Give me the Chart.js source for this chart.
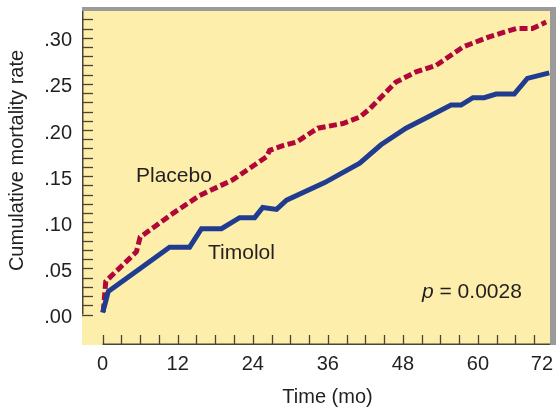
<!DOCTYPE html>
<html>
<head>
<meta charset="utf-8">
<script src="https://cdn.jsdelivr.net/npm/chart.js@4"></script>
<style>
  html, body { margin: 0; padding: 0; background: #fff; }
  #wrap { width: 556px; height: 411px; }
</style>
</head>
<body>
<div id="wrap"><canvas id="km-chart"></canvas></div>
<script>
// months and cumulative mortality
const timololTime = [0, 0.4, 0.9, 6.0, 10.7, 13.9, 15.8, 19.0, 21.9, 24.3, 25.6, 27.8, 29.4, 35.5, 41.1, 44.5, 48.5, 52.0, 55.7, 57.3, 59.2, 61.0, 62.9, 65.8, 67.9, 71.4];
const timololRate = [0.002, 0.012, 0.025, 0.050, 0.073, 0.073, 0.093, 0.093, 0.105, 0.105, 0.116, 0.114, 0.124, 0.143, 0.164, 0.184, 0.202, 0.214, 0.227, 0.227, 0.235, 0.235, 0.239, 0.239, 0.256, 0.262];

const placeboTime = [0.1, 0.5, 5.4, 6.0, 11.3, 15.5, 20.8, 26.2, 26.7, 28.8, 31.0, 34.4, 38.4, 41.1, 42.7, 46.9, 50.1, 53.3, 57.6, 61.8, 66.1, 68.7, 70.9];
const placeboRate = [0.003, 0.036, 0.068, 0.084, 0.110, 0.129, 0.146, 0.171, 0.178, 0.183, 0.187, 0.202, 0.207, 0.214, 0.223, 0.252, 0.263, 0.270, 0.290, 0.301, 0.310, 0.310, 0.317];

const xTicks = [0, 12, 24, 36, 48, 60, 72];
const yTicks = [0, 0.05, 0.10, 0.15, 0.20, 0.25, 0.30];

const xMin = -3.3, xMax = 72;
const yMin = -0.033, yMax = 0.329;

const fontFamily = '"Liberation Sans", Arial, Helvetica, sans-serif';
const textColor = '#231f20';
const axisColor = '#4a4436';

function toPoints(xs, ys) {
    return xs.map((x, i) => ({ x: x, y: ys[i] }));
}

// yellow panel, grey frame, axes with inward ticks, notes
const panelPlugin = {
    id: 'panel',
    beforeDatasetsDraw(chart) {
        const ctx = chart.ctx;
        const a = chart.chartArea;
        const xs = chart.scales.x, ys = chart.scales.y;
        ctx.save();
        ctx.fillStyle = '#fdeeab';
        ctx.fillRect(a.left, a.top, a.right - a.left, a.bottom - a.top);

        ctx.strokeStyle = axisColor;
        ctx.lineWidth = 1.5;
        // y axis
        const y0 = ys.getPixelForValue(0);
        ctx.beginPath();
        ctx.moveTo(a.left + 0.75, a.top);
        ctx.lineTo(a.left + 0.75, y0);
        ctx.stroke();
        ctx.lineWidth = 1.3;
        for (var i = 0; i <= 32; i++) {
            var py = Math.round(ys.getPixelForValue(i / 100)) + 0.5;
            ctx.beginPath();
            ctx.moveTo(a.left, py);
            ctx.lineTo(a.left + 11, py);
            ctx.stroke();
        }
        // x axis
        ctx.lineWidth = 1.5;
        ctx.beginPath();
        ctx.moveTo(xs.getPixelForValue(0), a.bottom - 0.75);
        ctx.lineTo(a.right, a.bottom - 0.75);
        ctx.stroke();
        ctx.lineWidth = 1.3;
        for (var m = 0; m <= 72; m += 3) {
            var px = Math.round(xs.getPixelForValue(m)) + 0.5;
            ctx.beginPath();
            ctx.moveTo(px, a.bottom);
            ctx.lineTo(px, a.bottom - 10);
            ctx.stroke();
        }
        ctx.restore();
    },
    afterDraw(chart) {
        const ctx = chart.ctx;
        const a = chart.chartArea;
        ctx.save();
        ctx.fillStyle = '#9a9a9a';
        ctx.fillRect(a.left, 7, 556 - a.left, 4);
        ctx.fillRect(550, 7, 6, a.bottom - 7);

        ctx.fillStyle = textColor;
        ctx.font = '21px ' + fontFamily;
        ctx.textBaseline = 'alphabetic';
        ctx.textAlign = 'left';
        ctx.fillText('Placebo', 136, 182);
        ctx.fillText('Timolol', 208, 259);
        ctx.font = 'italic 21px ' + fontFamily;
        ctx.fillText('p', 422, 298);
        var pw = ctx.measureText('p').width;
        ctx.font = '21px ' + fontFamily;
        ctx.fillText(' = 0.0028', 422 + pw, 298);

        // axis titles
        ctx.font = '20px ' + fontFamily;
        ctx.textAlign = 'center';
        ctx.fillText('Time (mo)', 327.5, 403);
        ctx.translate(17.5, 160.5);
        ctx.rotate(-Math.PI / 2);
        ctx.textBaseline = 'middle';
        ctx.fillText('Cumulative mortality rate', 0, 0);
        ctx.restore();
    }
};

new Chart(document.getElementById('km-chart'), {
    type: 'line',
    data: {
        datasets: [{
            label: 'Timolol',
            data: toPoints(timololTime, timololRate),
            borderColor: '#1f3c91',
            borderWidth: 5,
            pointRadius: 0,
            tension: 0,
            order: 0
        }, {
            label: 'Placebo',
            data: toPoints(placeboTime, placeboRate),
            borderColor: '#b1063a',
            borderWidth: 5,
            borderDash: [8, 3.5],
            pointRadius: 0,
            tension: 0,
            order: 1
        }]
    },
    options: {
        responsive: true,
        maintainAspectRatio: false,
        animation: false,
        layout: { padding: { top: 11, right: 3, left: 0, bottom: 0 } },
        plugins: {
            legend: { display: false },
            tooltip: { enabled: false }
        },
        scales: {
            x: {
                type: 'linear',
                min: xMin,
                max: xMax,
                afterFit: (s) => {
                    s.height = 66;
                    s.paddingLeft = 0;
                    s.paddingRight = 0;
                },
                // blank tick at the left edge so 'inner' only moves the 72
                afterBuildTicks: (s) => {
                    s.ticks = [{ value: xMin }].concat(xTicks.map((v) => ({ value: v })));
                },
                grid: { display: false, drawTicks: false },
                border: { display: false },
                ticks: {
                    autoSkip: false,
                    align: 'inner',
                    padding: 7,
                    color: textColor,
                    font: { family: fontFamily, size: 20 },
                    callback: (v) => (v >= 0 ? String(v) : '')
                }
            },
            y: {
                type: 'linear',
                min: yMin,
                max: yMax,
                afterFit: (s) => {
                    s.width = 82;
                    s.paddingTop = 0;
                    s.paddingBottom = 0;
                },
                afterBuildTicks: (s) => {
                    s.ticks = yTicks.map((v) => ({ value: v }));
                },
                grid: { display: false, drawTicks: false },
                border: { display: false },
                ticks: {
                    autoSkip: false,
                    padding: 10,
                    labelOffset: 3,
                    color: textColor,
                    font: { family: fontFamily, size: 20 },
                    callback: (v) => '.' + String(Math.round(v * 100)).padStart(2, '0')
                }
            }
        }
    },
    plugins: [panelPlugin]
});
</script>
</body>
</html>
